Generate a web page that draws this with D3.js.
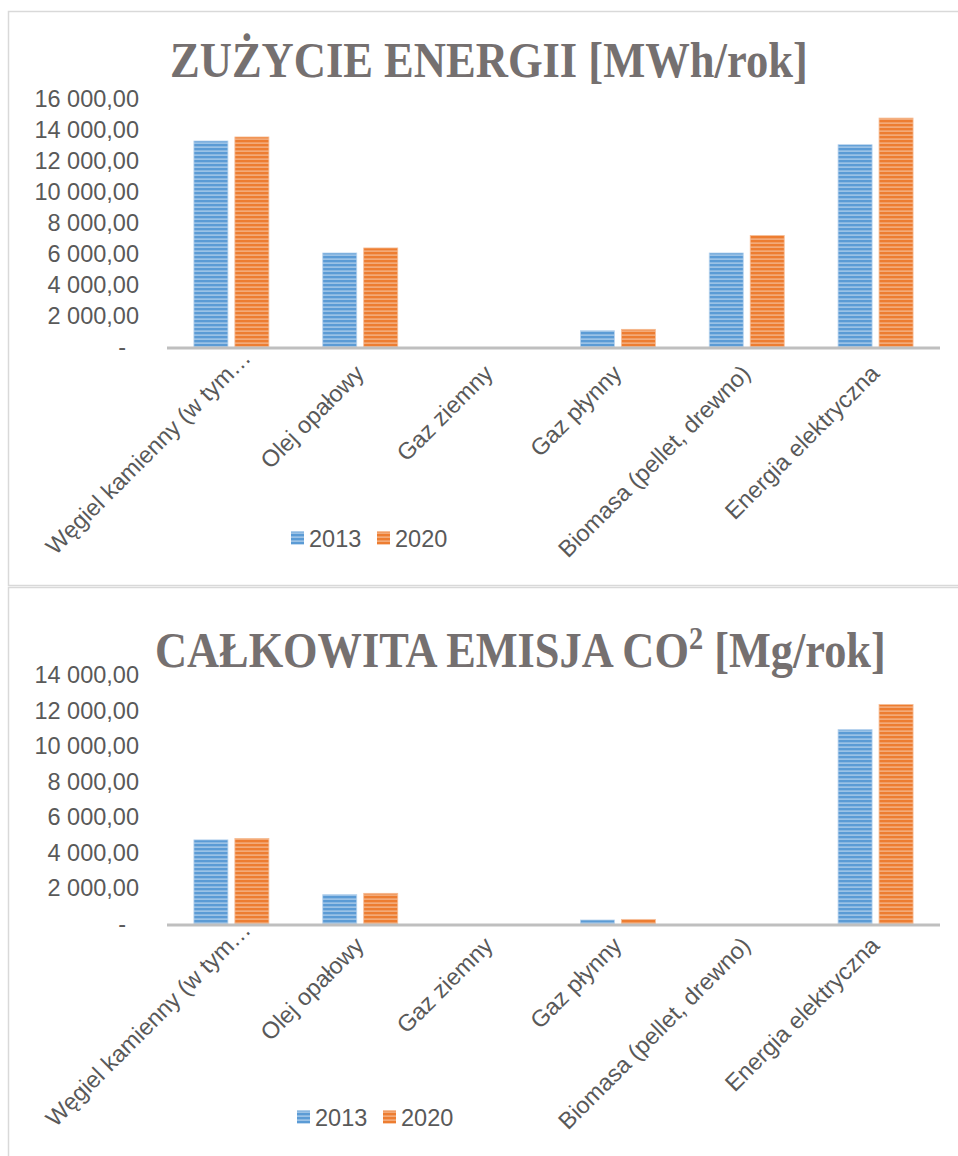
<!DOCTYPE html>
<html>
<head>
<meta charset="utf-8">
<script src="https://cdn.jsdelivr.net/npm/d3@7"></script>
<style>
  body { margin: 0; background: #fff; }
  svg { display: block; }
</style>
</head>
<body>
<svg id="chart" width="958" height="1156"></svg>
<script>
const categories = ["Węgiel kamienny (w tym…", "Olej opałowy", "Gaz ziemny", "Gaz płynny", "Biomasa (pellet, drewno)", "Energia elektryczna"];
const years = ["2013", "2020"];

// zużycie energii [MWh/rok]
const energy2013 = [13290, 6065, 0, 1050, 6065, 13050];
const energy2020 = [13550, 6390, 0, 1140, 7200, 14770];

// emisja CO2 [Mg/rok]
const co2_2013 = [4730, 1650, 0, 225, 0, 10930];
const co2_2020 = [4810, 1725, 0, 260, 0, 12340];

const energyTicks = [0, 2000, 4000, 6000, 8000, 10000, 12000, 14000, 16000];
const co2Ticks = [0, 2000, 4000, 6000, 8000, 10000, 12000, 14000];

const colors = { "2013": ["#5b9bd5", "#b7d3ee"], "2020": ["#ed7d31", "#f6bd96"] };

const svg = d3.select("#chart");

const pl = d3.formatLocale({ decimal: ",", thousands: "\u00a0", grouping: [3], currency: ["", ""] });
const fmt = v => v === 0 ? "-" : pl.format(",.2f")(v);

// striped fills
const defs = svg.append("defs");
years.forEach(y => {
    const p = defs.append("pattern")
        .attr("id", "stripe" + y)
        .attr("patternUnits", "userSpaceOnUse")
        .attr("width", 8).attr("height", 4);
    p.append("rect").attr("width", 8).attr("height", 4).attr("fill", colors[y][0]);
    p.append("rect").attr("y", 2.5).attr("width", 8).attr("height", 1.2).attr("fill", colors[y][1]);
});

function drawChart(opt) {
    const g = svg.append("g");

    g.append("rect")
        .attr("x", 8.5).attr("y", opt.frameTop)
        .attr("width", 960).attr("height", opt.frameH)
        .attr("fill", "none").attr("stroke", "#d9d9d9").attr("stroke-width", 1.5);

    const title = g.append("text")
        .attr("x", opt.titleX).attr("y", opt.titleY)
        .attr("font-family", "Liberation Serif, serif")
        .attr("font-weight", "bold")
        .attr("font-size", 50)
        .attr("fill", "#757070");
    opt.title(title);
    // stretch title to the width seen in the picture
    const w = title.node().getBBox().width;
    const sx = opt.titleW / w;
    title.attr("transform", `translate(${opt.titleX},0) scale(${sx},1) translate(${-opt.titleX},0)`);

    const x = d3.scaleBand().domain(categories).range([167, 940]);
    const x1 = d3.scaleBand().domain(years).range([26.9, 101.9]).paddingInner(0.17);
    const y = d3.scaleLinear().domain([0, opt.max]).range([opt.base, opt.top]);

    const yAxis = g.append("g")
        .attr("transform", "translate(139,0)")
        .call(d3.axisLeft(y).tickValues(opt.ticks).tickFormat(fmt).tickSize(0).tickPadding(0));
    yAxis.select(".domain").remove();
    yAxis.selectAll("text")
        .attr("font-family", "Liberation Sans, Arial, sans-serif")
        .attr("font-size", 23.5)
        .attr("fill", "#595959")
        .attr("dx", d => d === 0 ? -13 : 0);

    const series = [opt.s2013, opt.s2020];
    const grp = g.selectAll(".cat")
        .data(categories)
        .enter().append("g")
        .attr("transform", d => `translate(${x(d)},0)`);

    grp.selectAll("rect")
        .data((d, i) => years.map((yr, k) => ({ yr, v: series[k][i] })))
        .enter().append("rect")
        .attr("x", d => x1(d.yr))
        .attr("width", x1.bandwidth())
        .attr("y", d => y(d.v))
        .attr("height", d => y(0) - y(d.v))
        .attr("fill", d => `url(#stripe${d.yr})`)
        .attr("stroke", d => colors[d.yr][1])
        .attr("stroke-width", 0.8);

    g.append("line")
        .attr("x1", 167).attr("x2", 940)
        .attr("y1", y(0) + 1).attr("y2", y(0) + 1)
        .attr("stroke", "#bfbfbf").attr("stroke-width", 3);

    g.selectAll(".cl")
        .data(categories)
        .enter().append("text")
        .attr("transform", d => `translate(${x(d) + x.bandwidth() / 2 + 3},${y(0) + opt.labOff}) rotate(-45)`)
        .attr("text-anchor", "end")
        .attr("dx", (d, i) => i === 0 ? 25 : 3)
        .attr("font-family", "Liberation Sans, Arial, sans-serif")
        .attr("font-size", 23.5)
        .attr("fill", "#595959")
        .text(d => d);

    const leg = g.selectAll(".lg")
        .data(years)
        .enter().append("g")
        .attr("transform", (d, i) => `translate(${opt.legX + i * 86},${opt.legY})`);
    leg.append("rect")
        .attr("x", 0).attr("y", -6.5).attr("width", 13).attr("height", 13)
        .attr("fill", d => `url(#stripe${d})`);
    leg.append("text")
        .attr("x", 18).attr("y", 8.5)
        .attr("font-family", "Liberation Sans, Arial, sans-serif")
        .attr("font-size", 23.5)
        .attr("fill", "#595959")
        .text(d => d);
}

drawChart({
    frameTop: 11.5, frameH: 574,
    titleX: 170, titleY: 77, titleW: 638,
    title: t => t.text("ZUŻYCIE ENERGII [MWh/rok]"),
    max: 16000, ticks: energyTicks, base: 347, top: 99,
    s2013: energy2013, s2020: energy2020,
    labOff: 30, legX: 291, legY: 538
});

drawChart({
    frameTop: 587.5, frameH: 600,
    titleX: 155, titleY: 667, titleW: 731,
    title: t => {
        t.append("tspan").text("CAŁKOWITA EMISJA CO");
        t.append("tspan").attr("font-size", 32).attr("dy", -18).text("2");
        t.append("tspan").attr("dy", 18).text(" [Mg/rok]");
    },
    max: 14000, ticks: co2Ticks, base: 924, top: 675,
    s2013: co2_2013, s2020: co2_2020,
    labOff: 25, legX: 297, legY: 1117
});
</script>
</body>
</html>
